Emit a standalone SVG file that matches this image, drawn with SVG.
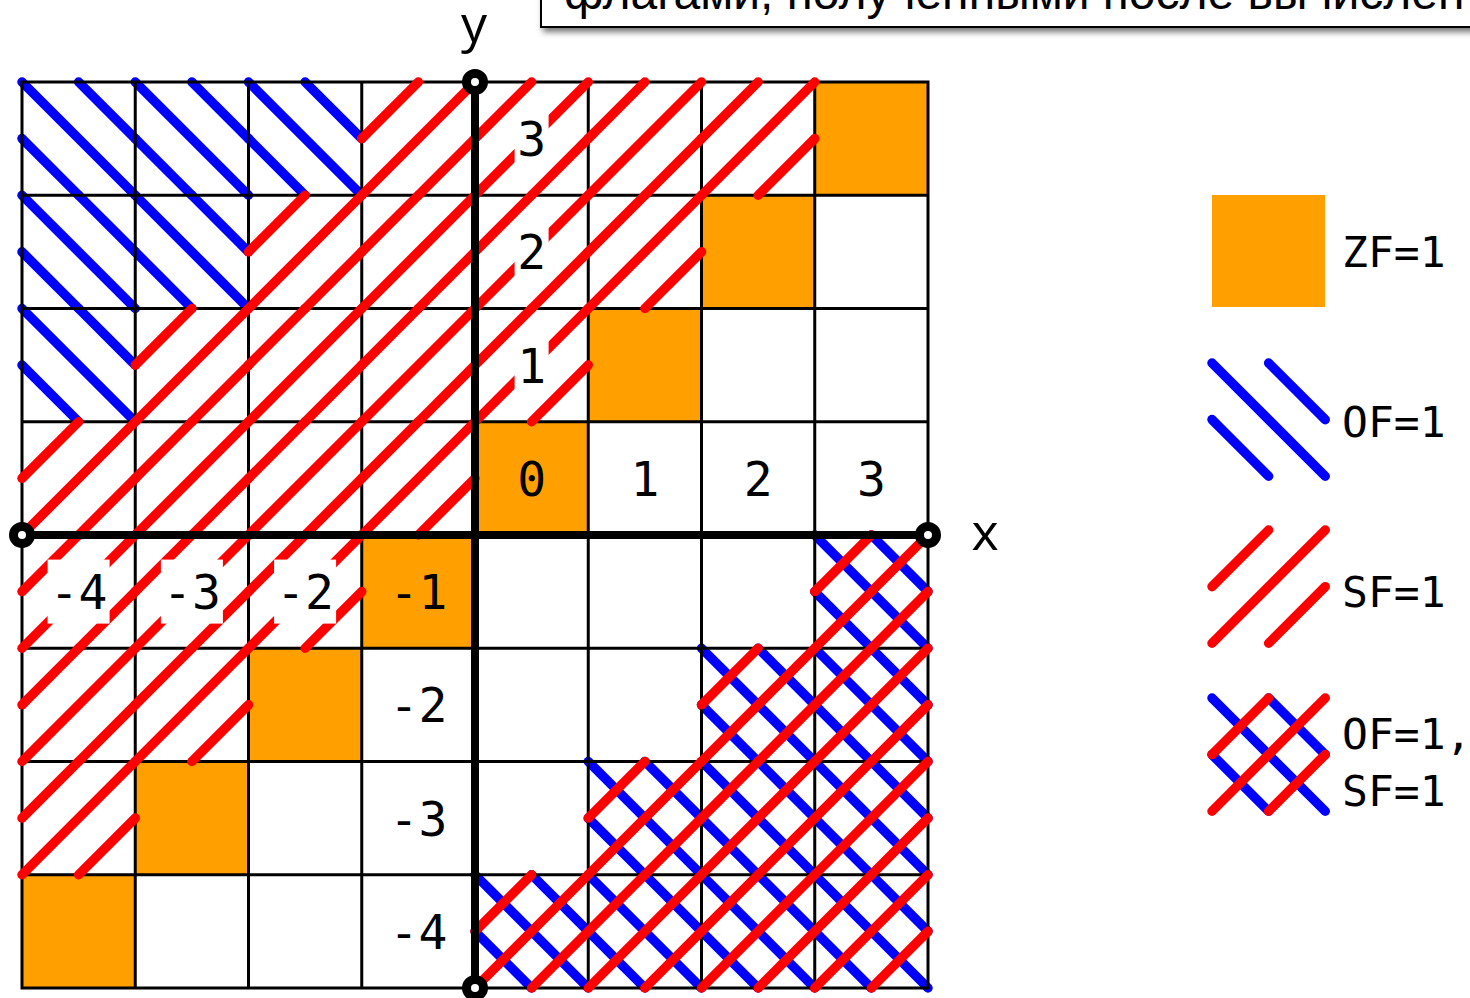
<svg xmlns="http://www.w3.org/2000/svg" width="1470" height="998" viewBox="0 0 1470 998">
<defs>
<style>
.grid{stroke:#000;stroke-width:3;fill:none}
.axis{stroke:#000;stroke-width:8;fill:none}
.dot{fill:#fff;stroke:#000;stroke-width:9}
.zf{fill:#FFA000}
.bg{fill:#fff}
.lbl{font-family:"DejaVu Sans Mono","Liberation Mono",monospace;font-size:48px;fill:#000;text-anchor:middle}
.leg{font-family:"DejaVu Sans Mono","Liberation Mono",monospace;font-size:43px;fill:#000}
.ax{font-family:"Open Sans","Liberation Sans",sans-serif;font-size:52px;fill:#000;text-anchor:middle}
.title{font-family:"Liberation Sans",Arial,sans-serif;font-size:48px;fill:#000}
</style>
<g id="R" stroke="#FF0000" stroke-width="9.5" stroke-linecap="round">
<line x1="0" y1="56.625" x2="56.625" y2="0"/>
<line x1="0" y1="113.25" x2="113.25" y2="0"/>
<line x1="56.625" y1="113.25" x2="113.25" y2="56.625"/>
</g>
<g id="B" stroke="#0000FF" stroke-width="9.5" stroke-linecap="round">
<line x1="56.625" y1="0" x2="113.25" y2="56.625"/>
<line x1="0" y1="0" x2="113.25" y2="113.25"/>
<line x1="0" y1="56.625" x2="56.625" y2="113.25"/>
</g>
<filter id="sh" x="-5%" y="-50%" width="110%" height="200%">
<feDropShadow dx="3" dy="4" stdDeviation="3" flood-color="#000" flood-opacity="0.55"/>
</filter>
</defs>
<rect width="1470" height="998" fill="#fff"/>

<g id="title-box">
<rect x="541" y="-60" width="1000" height="87" fill="#fff" stroke="#000" stroke-width="2" filter="url(#sh)"/>
<text class="title" x="564" y="9">флагами, полученными после вычислен</text>
</g>

<g id="zf-cells">
<rect class="zf" x="814.75" y="82" width="113.25" height="113.25"/>
<rect class="zf" x="701.5" y="195.25" width="113.25" height="113.25"/>
<rect class="zf" x="588.25" y="308.5" width="113.25" height="113.25"/>
<rect class="zf" x="475" y="421.75" width="113.25" height="113.25"/>
<rect class="zf" x="361.75" y="535" width="113.25" height="113.25"/>
<rect class="zf" x="248.5" y="648.25" width="113.25" height="113.25"/>
<rect class="zf" x="135.25" y="761.5" width="113.25" height="113.25"/>
<rect class="zf" x="22" y="874.75" width="113.25" height="113.25"/>
</g>

<g id="of-hatch">
<use href="#B" x="22" y="82"/>
<use href="#B" x="135.25" y="82"/>
<use href="#B" x="248.5" y="82"/>
<use href="#B" x="22" y="195.25"/>
<use href="#B" x="135.25" y="195.25"/>
<use href="#B" x="22" y="308.5"/>
<use href="#B" x="814.75" y="535"/>
<use href="#B" x="701.5" y="648.25"/>
<use href="#B" x="814.75" y="648.25"/>
<use href="#B" x="588.25" y="761.5"/>
<use href="#B" x="701.5" y="761.5"/>
<use href="#B" x="814.75" y="761.5"/>
<use href="#B" x="475" y="874.75"/>
<use href="#B" x="588.25" y="874.75"/>
<use href="#B" x="701.5" y="874.75"/>
<use href="#B" x="814.75" y="874.75"/>
</g>

<g id="grid" class="grid">
<rect x="22" y="82" width="906" height="906"/>
<path d="M135.25 82V988M248.5 82V988M361.75 82V988M588.25 82V988M701.5 82V988M814.75 82V988M22 195.25H928M22 308.5H928M22 421.75H928M22 648.25H928M22 761.5H928M22 874.75H928"/>
</g>

<g id="sf-hatch">
<use href="#R" x="22" y="421.75"/>
<use href="#R" x="135.25" y="308.5"/>
<use href="#R" x="248.5" y="195.25"/>
<use href="#R" x="361.75" y="82"/>
<use href="#R" x="22" y="535"/>
<use href="#R" x="135.25" y="421.75"/>
<use href="#R" x="248.5" y="308.5"/>
<use href="#R" x="361.75" y="195.25"/>
<use href="#R" x="475" y="82"/>
<use href="#R" x="22" y="648.25"/>
<use href="#R" x="135.25" y="535"/>
<use href="#R" x="248.5" y="421.75"/>
<use href="#R" x="361.75" y="308.5"/>
<use href="#R" x="475" y="195.25"/>
<use href="#R" x="588.25" y="82"/>
<use href="#R" x="22" y="761.5"/>
<use href="#R" x="135.25" y="648.25"/>
<use href="#R" x="248.5" y="535"/>
<use href="#R" x="361.75" y="421.75"/>
<use href="#R" x="475" y="308.5"/>
<use href="#R" x="588.25" y="195.25"/>
<use href="#R" x="701.5" y="82"/>
<use href="#R" x="814.75" y="535"/>
<use href="#R" x="701.5" y="648.25"/>
<use href="#R" x="814.75" y="648.25"/>
<use href="#R" x="588.25" y="761.5"/>
<use href="#R" x="701.5" y="761.5"/>
<use href="#R" x="814.75" y="761.5"/>
<use href="#R" x="475" y="874.75"/>
<use href="#R" x="588.25" y="874.75"/>
<use href="#R" x="701.5" y="874.75"/>
<use href="#R" x="814.75" y="874.75"/>
</g>

<g id="axes">
<line class="axis" x1="22" y1="535" x2="928" y2="535"/>
<line class="axis" x1="475" y1="82" x2="475" y2="988"/>
<circle class="dot" cx="475" cy="82" r="8.5"/>
<circle class="dot" cx="22" cy="535" r="8.5"/>
<circle class="dot" cx="928" cy="535" r="8.5"/>
<circle class="dot" cx="475" cy="988" r="8.5"/>
<text class="ax" x="474" y="42">y</text>
<text class="ax" x="985" y="550">x</text>
</g>

<g id="labels">
<rect class="bg" x="514.6" y="106.6" width="34" height="64"/>
<rect class="bg" x="514.6" y="219.9" width="34" height="64"/>
<rect class="bg" x="514.6" y="333.1" width="34" height="64"/>
<rect class="bg" x="47.6" y="559.6" width="62" height="64"/>
<rect class="bg" x="160.9" y="559.6" width="62" height="64"/>
<rect class="bg" x="274.1" y="559.6" width="62" height="64"/>
<text class="lbl" x="531.6" y="156">3</text>
<text class="lbl" x="531.6" y="269.4">2</text>
<text class="lbl" x="531.6" y="382.6">1</text>
<text class="lbl" x="531.6" y="495.9">0</text>
<text class="lbl" x="644.9" y="495.9">1</text>
<text class="lbl" x="758.1" y="495.9">2</text>
<text class="lbl" x="871.4" y="495.9">3</text>
<text class="lbl" x="78.6" y="609.1">-4</text>
<text class="lbl" x="191.9" y="609.1">-3</text>
<text class="lbl" x="305.1" y="609.1">-2</text>
<text class="lbl" x="418.4" y="609.1">-1</text>
<text class="lbl" x="418.4" y="722.4">-2</text>
<text class="lbl" x="418.4" y="835.6">-3</text>
<text class="lbl" x="418.4" y="948.9">-4</text>
</g>

<g id="legend-zf">
<rect class="zf" x="1212" y="195" width="113" height="112"/>
<text class="leg" x="1342" y="267">ZF=1</text>
</g>
<g id="legend-of">
<use href="#B" x="1212" y="363"/>
<text class="leg" x="1342" y="437">OF=1</text>
</g>
<g id="legend-sf">
<use href="#R" x="1212" y="530"/>
<text class="leg" x="1342" y="607">SF=1</text>
</g>
<g id="legend-of-sf">
<use href="#B" x="1212" y="698"/>
<use href="#R" x="1212" y="698"/>
<text class="leg" x="1342" y="749">OF=1,</text>
<text class="leg" x="1342" y="806">SF=1</text>
</g>
</svg>
